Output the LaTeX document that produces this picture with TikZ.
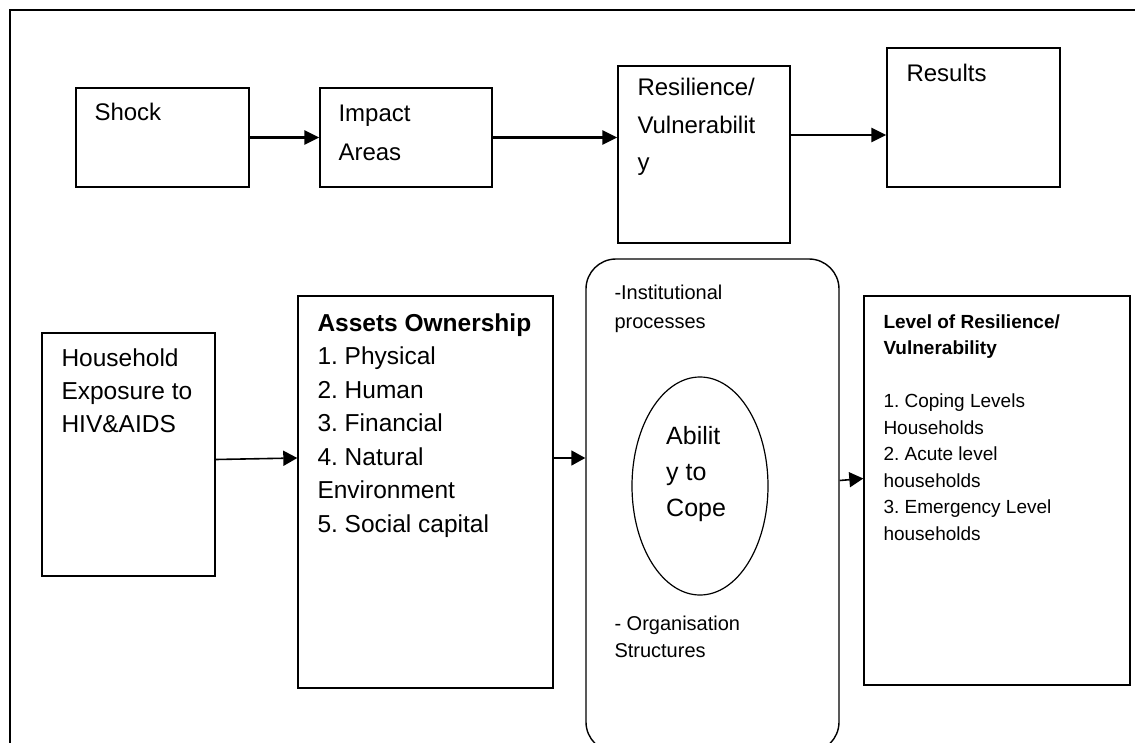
\documentclass[tikz,border=0pt]{standalone}
\usepackage{fontspec}
\setmainfont{Liberation Sans}
\usetikzlibrary{positioning,calc,arrows.meta,shapes.geometric}
\frenchspacing

\begin{document}
\begin{tikzpicture}[
    % GLOBAL CFG
    x=1pt, y=-1pt,
    % Styles
    frame/.style={% outer frame
        draw,
        line width=1.6pt,
        },
    box/.style={% plain boxes
        rectangle,
        draw,
        line width=1.4pt,
        inner sep=0pt,
        },
    roundbox/.style={% the box round the ellipse
        rectangle,
        draw,
        line width=1.4pt,
        rounded corners=30pt,
        inner sep=0pt,
        },
    oval/.style={% ability to cope
        ellipse,
        draw,
        line width=1.2pt,
        inner sep=0pt,
        },
    toptxt/.style={% text of the upper row
        inner sep=0pt,
        align=left,
        font=\fontsize{24}{39}\selectfont,
        },
    lowtxt/.style={% text of the lower row
        inner sep=0pt,
        align=left,
        font=\fontsize{24.5}{33.5}\selectfont,
        },
    smalltxt/.style={% text in the right boxes
        inner sep=0pt,
        align=left,
        font=\fontsize{19.5}{27}\selectfont,
        },
    ArrowTop/.style={% thick arrows
        -{Triangle[length=15pt,width=14pt]},
        line width=2.6pt,
        },
    ArrowLow/.style={% thin arrows
        -{Triangle[length=14pt,width=15pt]},
        line width=1.6pt,
        },
    ]

    \useasboundingbox (0,0) rectangle (1135,743);
    \clip (0,0) rectangle (1135,743);

    % Frame
    \draw [frame] (10,10) rectangle (1160,770);

    % Upper row
    \node [box, minimum width=173pt, minimum height=99pt] (shock) at (162.5,137.5) {};
    \node [box, minimum width=172pt, minimum height=99pt] (impact) at (406,137.5) {};
    \node [box, minimum width=172pt, minimum height=177pt] (res) at (704,154.5) {};
    \node [box, minimum width=173pt, minimum height=139pt] (results) at (973.5,117.5) {};

    \node [toptxt, below right=16pt and 19pt of shock.north west] (shockT) {Shock};
    \node [toptxt, below right=17pt and 19pt of impact.north west] (impactT) {Impact\\Areas};
    \node [toptxt, font=\fontsize{24}{37.5}\selectfont, below right=13pt and 20pt of res.north west] (resT) {Resilience/\\Vulnerabilit\\y};
    \node [toptxt, below right=17pt and 20pt of results.north west] (resultsT) {Results};

    % Lower row
    \node [box, minimum width=173pt, minimum height=243pt] (household) at (128.5,454.5) {};
    \node [box, minimum width=255pt, minimum height=392pt] (assets) at (425.5,492) {};
    \node [roundbox, minimum width=253pt, minimum height=493pt] (inst) at (712.5,505.5) {};
    \node [oval, minimum width=136pt, minimum height=218pt] (cope) at (700,486) {};
    \node [box, minimum width=266pt, minimum height=389pt] (level) at (997,490.5) {};

    \node [lowtxt, font=\fontsize{24.5}{33}\selectfont, below right=16pt and 20pt of household.north west] (householdT) {Household\\Exposure to\\HIV\&AIDS};
    \node [lowtxt, below right=18pt and 20pt of assets.north west] (assetsT) {\textbf{Assets Ownership}\\1. Physical\\2. Human\\3. Financial\\4. Natural\\Environment\\5. Social capital};
    \node [smalltxt, font=\fontsize{20}{29}\selectfont, below right=27pt and 29pt of inst.north west] (instT) {-Institutional\\processes};
    \node [smalltxt, font=\fontsize{20}{27}\selectfont, below right=358pt and 29pt of inst.north west] (orgT) {- Organisation\\Structures};
    \node [toptxt, font=\fontsize{25}{36}\selectfont, anchor=north west] (copeT) at (666,426) {Abilit\\y to\\Cope};
    \node [smalltxt, font=\fontsize{19}{26.5}\selectfont, below right=19pt and 20pt of level.north west] (levelT) {\textbf{Level of Resilience/}\\\textbf{Vulnerability}\\[26.5pt]1. Coping Levels\\Households\\2. Acute level\\households\\3. Emergency Level\\households};

    % Arrows
    \draw [ArrowTop] (shock.east) -- (impact.west);
    \draw [ArrowTop] (impact.east) -- (impact.east -| res.west);
    \draw [ArrowTop] ($(res.east)+(0,-19.5)$) -- ($(res.east -| results.west)+(0,-19.5)$);

    \draw [ArrowLow] ($(household.east)+(0,5)$) -- ($(assets.west)+(0,-34)$);
    \draw [ArrowLow] ($(assets.east)+(0,-34)$) -- ($(assets.east -| inst.west)+(0,-34)$);
    \draw [ArrowLow] ($(inst.east)+(0,-25)$) -- ($(level.west)+(0,-12)$);

\end{tikzpicture}
\end{document}
